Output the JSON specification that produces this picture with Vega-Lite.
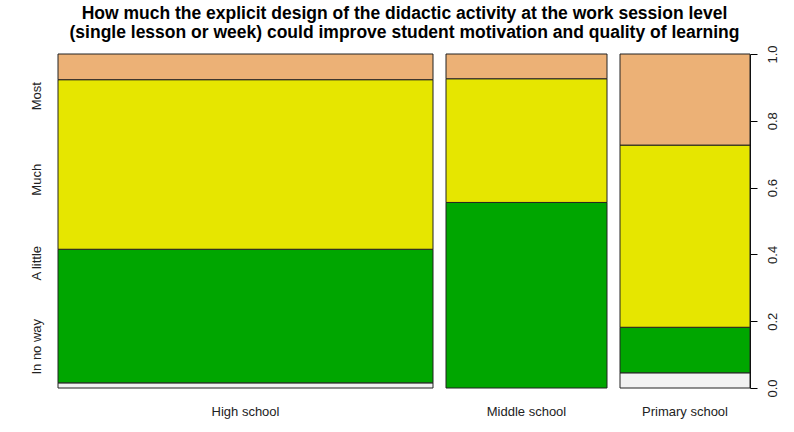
{
  "$schema": "https://vega.github.io/schema/vega-lite/v6.json",
  "padding": {"left": 30, "top": 4, "right": 5, "bottom": 5},
  "title": {
    "text": ["How much the explicit design of the didactic activity at the work session level", "(single lesson or week) could improve student motivation and quality of learning"],
    "font": "Liberation Sans",
    "fontSize": 17.5,
    "fontWeight": "bold",
    "lineHeight": 19.5,
    "color": "black",
    "anchor": "middle",
    "offset": 3
  },
  "data": {
    "values": [
      {"school": "High school", "answer": "In no way", "k": 1, "n": 1},
      {"school": "High school", "answer": "A little", "k": 2, "n": 26},
      {"school": "High school", "answer": "Much", "k": 3, "n": 33},
      {"school": "High school", "answer": "Most", "k": 4, "n": 5},
      {"school": "Middle school", "answer": "A little", "k": 2, "n": 15},
      {"school": "Middle school", "answer": "Much", "k": 3, "n": 10},
      {"school": "Middle school", "answer": "Most", "k": 4, "n": 2},
      {"school": "Primary school", "answer": "In no way", "k": 1, "n": 1},
      {"school": "Primary school", "answer": "A little", "k": 2, "n": 3},
      {"school": "Primary school", "answer": "Much", "k": 3, "n": 12},
      {"school": "Primary school", "answer": "Most", "k": 4, "n": 6}
    ]
  },
  "spacing": 11,
  "hconcat": [
    {
      "width": 375,
      "height": 334,
      "transform": [{"filter": "datum.school === 'High school'"}],
      "mark": {"type": "bar", "stroke": "#222", "strokeWidth": 1},
      "encoding": {
        "x": {"field": "school", "type": "nominal", "title": null, "scale": {"paddingInner": 0, "paddingOuter": 0},
              "axis": {"ticks": false, "domain": false, "labelAngle": 0, "labelPadding": 17}},
        "y": {"field": "n", "type": "quantitative", "stack": "normalize", "title": null,
              "scale": {"domain": [0, 1]},
              "axis": {"orient": "left", "values": [0.125, 0.375, 0.625, 0.875], "ticks": false, "domain": false, "grid": false,
                       "labelExpr": "datum.value < 0.2 ? 'In no way' : datum.value < 0.5 ? 'A little' : datum.value < 0.7 ? 'Much' : 'Most'",
                       "labelAngle": -90, "labelAlign": "center", "labelBaseline": "bottom", "labelPadding": 15}},
        "color": {"field": "answer", "type": "nominal", "legend": null,
                  "scale": {"domain": ["In no way", "A little", "Much", "Most"], "range": ["#F2F2F2", "#00A600", "#E6E600", "#ECB176"]}},
        "order": {"field": "k", "type": "quantitative"}
      }
    },
    {
      "width": 161,
      "height": 334,
      "transform": [{"filter": "datum.school === 'Middle school'"}],
      "mark": {"type": "bar", "stroke": "#222", "strokeWidth": 1},
      "encoding": {
        "x": {"field": "school", "type": "nominal", "title": null, "scale": {"paddingInner": 0, "paddingOuter": 0},
              "axis": {"ticks": false, "domain": false, "labelAngle": 0, "labelPadding": 17}},
        "y": {"field": "n", "type": "quantitative", "stack": "normalize", "title": null,
              "scale": {"domain": [0, 1]}, "axis": null},
        "color": {"field": "answer", "type": "nominal", "legend": null,
                  "scale": {"domain": ["In no way", "A little", "Much", "Most"], "range": ["#F2F2F2", "#00A600", "#E6E600", "#ECB176"]}},
        "order": {"field": "k", "type": "quantitative"}
      }
    },
    {
      "width": 130,
      "height": 334,
      "transform": [{"filter": "datum.school === 'Primary school'"}],
      "mark": {"type": "bar", "stroke": "#222", "strokeWidth": 1},
      "encoding": {
        "x": {"field": "school", "type": "nominal", "title": null, "scale": {"paddingInner": 0, "paddingOuter": 0},
              "axis": {"ticks": false, "domain": false, "labelAngle": 0, "labelPadding": 17}},
        "y": {"field": "n", "type": "quantitative", "stack": "normalize", "title": null,
              "scale": {"domain": [0, 1]},
              "axis": {"orient": "right", "values": [0, 0.2, 0.4, 0.6, 0.8, 1], "grid": false,
                       "labelExpr": "format(datum.value, '.1f')",
                       "domainColor": "black", "tickColor": "black", "tickSize": 7,
                       "labelAngle": -90, "labelAlign": "center", "labelBaseline": "top", "labelPadding": 9}},
        "color": {"field": "answer", "type": "nominal", "legend": null,
                  "scale": {"domain": ["In no way", "A little", "Much", "Most"], "range": ["#F2F2F2", "#00A600", "#E6E600", "#ECB176"]}},
        "order": {"field": "k", "type": "quantitative"}
      }
    }
  ],
  "config": {
    "view": {"stroke": null},
    "font": "Liberation Sans",
    "axis": {"labelFont": "Liberation Sans", "labelFontSize": 13, "labelColor": "#222"}
  }
}
